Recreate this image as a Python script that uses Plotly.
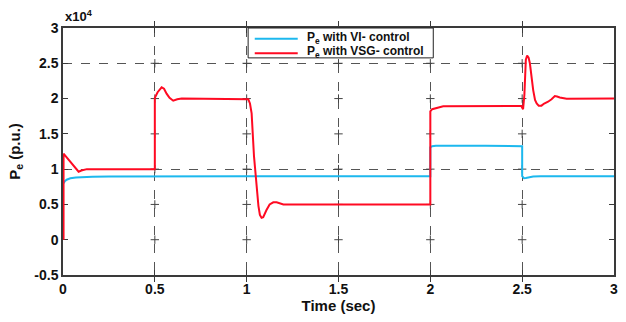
import plotly.graph_objects as go

# ---- data (in p.u.) ----
vi_t = [0.003, 0.01, 0.02, 0.04, 0.07, 0.10, 0.16, 0.25, 0.5, 1.0, 1.5, 2.0, 2.0, 2.01, 2.03, 2.06, 2.1, 2.3, 2.5, 2.5, 2.51, 2.52, 2.54, 2.56, 2.6, 3.0]
vi_p = [8000, 8300, 8500, 8700, 8820, 8880, 8930, 8960, 9000, 9000, 9000, 9000, 13100, 13250, 13330, 13350, 13320, 13300, 13250, 9000, 8720, 8750, 8850, 8950, 9000, 9000]

vsg_t = [0.003, 0.003, 0.085, 0.10, 0.13, 0.5, 0.5, 0.515, 0.537, 0.55, 0.564, 0.58, 0.600, 0.622, 0.646, 1.0, 1.009, 1.018, 1.027, 1.04, 1.054, 1.064, 1.072, 1.081, 1.09, 1.1, 1.108, 1.125, 1.145, 1.163, 1.2, 2.0, 2.0, 2.01, 2.025, 2.05, 2.07, 2.495, 2.505, 2.512, 2.52, 2.527, 2.535, 2.542, 2.55, 2.56, 2.57, 2.579, 2.59, 2.605, 2.62, 2.641, 2.66, 2.678, 2.69, 2.705, 2.742, 3.0]
vsg_p = [0, 12200, 9630, 9800, 10000, 10000, 20100, 20900, 21600, 21400, 20700, 20100, 19700, 19900, 20000, 20000, 19900, 19300, 17900, 11800, 7000, 4800, 3500, 3100, 3200, 3800, 4200, 5000, 5300, 5300, 5000, 5000, 18200, 18500, 18600, 18800, 18900, 18950, 18500, 20500, 25500, 26100, 25800, 25000, 23200, 21200, 19800, 19300, 19000, 19000, 19300, 19550, 19900, 20350, 20300, 20150, 19970, 20000]

series_names = ["P<sub>e</sub> with VI- control", "P<sub>e</sub> with VSG- control"]

x_ticks = [0, 0.5, 1, 1.5, 2, 2.5, 3]
x_tick_text = ["0", "0.5", "1", "1.5", "2", "2.5", "3"]
y_ticks = [-5000, 0, 5000, 10000, 15000, 20000, 25000, 30000]
y_tick_text = ["-0.5", "0", "0.5", "1", "1.5", "2", "2.5", "3"]
h_grid = [10000, 25000]

BLUE = "#1CB8EE"
RED = "#FF0A22"
COLORS = [BLUE, RED]
FONT = "Liberation Sans"
AX = "#3a3a3a"

fig = go.Figure()

# "+" grid marks at interior intersections
gx, gy = [], []
for xv in x_ticks[1:-1]:
    for yv in y_ticks[1:-1]:
        gx.append(xv)
        gy.append(yv)
fig.add_trace(go.Scatter(x=gx, y=gy, mode="markers", showlegend=False, hoverinfo="skip",
                         marker=dict(symbol="cross-thin", size=6, line=dict(color="#444", width=1))))

fig.add_trace(go.Scatter(x=vi_t, y=vi_p, mode="lines", name=series_names[0], showlegend=False,
                         line=dict(color=BLUE, width=2)))
fig.add_trace(go.Scatter(x=vsg_t, y=vsg_p, mode="lines", name=series_names[1], showlegend=False,
                         line=dict(color=RED, width=2)))
# invisible trace on yaxis2 so its grid is drawn
fig.add_trace(go.Scatter(x=[None], y=[None], yaxis="y2", showlegend=False, hoverinfo="skip"))

# ---- compact legend box (paper coordinates) ----
L_X0, L_X1, L_Y0, L_Y1 = 0.336, 0.672, 0.879, 1.0
row_y = [0.956, 0.898]
shapes = [dict(type="rect", xref="paper", yref="paper", x0=L_X0, x1=L_X1, y0=L_Y0, y1=L_Y1,
               line=dict(color="#222", width=1), fillcolor="white", layer="above")]
annotations = []
for name, col, ry in zip(series_names, COLORS, row_y):
    shapes.append(dict(type="line", xref="paper", yref="paper", x0=L_X0 + 0.012, x1=L_X0 + 0.090,
                       y0=ry, y1=ry, line=dict(color=col, width=2), layer="above"))
    annotations.append(dict(text=name, xref="paper", yref="paper", x=L_X0 + 0.104, y=ry + 0.004,
                            xanchor="left", yanchor="middle", showarrow=False,
                            font=dict(family=FONT, size=12, color="#111", weight="bold")))
annotations.append(dict(text="x10<sup>4</sup>", xref="paper", yref="paper", x=0, y=1, xanchor="left",
                        yanchor="bottom", showarrow=False, yshift=2,
                        font=dict(family=FONT, size=13, color="#111", weight="bold")))

fig.update_layout(
    width=626, height=322,
    margin=dict(l=63, r=12, t=28, b=47),
    paper_bgcolor="white", plot_bgcolor="white",
    font=dict(family=FONT, size=13, color="#111"),
    showlegend=False,
    xaxis=dict(range=[0, 3], tickvals=x_ticks, ticktext=x_tick_text,
               showline=True, linecolor=AX, linewidth=1.5, mirror="allticks",
               ticks="inside", ticklen=5, tickcolor=AX,
               showgrid=True, gridcolor="#555", griddash="dash", gridwidth=1,
               zeroline=False, layer="below traces", automargin=False,
               tickfont=dict(family=FONT, size=14, color="#111", weight="bold"),
               title=dict(text="Time (sec)", font=dict(family=FONT, size=15, color="#111", weight="bold"), standoff=5)),
    yaxis=dict(range=[-5000, 30000], tickvals=y_ticks, ticktext=y_tick_text,
               showline=True, linecolor=AX, linewidth=1.5, mirror="allticks",
               ticks="inside", ticklen=5, tickcolor=AX,
               showgrid=False, zeroline=False, layer="below traces", automargin=False,
               tickfont=dict(family=FONT, size=14, color="#111", weight="bold"),
               title=dict(text="P<sub>e</sub> (p.u.)", font=dict(family=FONT, size=15, color="#111", weight="bold"), standoff=10)),
    yaxis2=dict(range=[-5000, 30000], overlaying="y", tickvals=h_grid, showticklabels=False,
                showgrid=True, gridcolor="#555", griddash="dash", gridwidth=1, zeroline=False,
                showline=False, ticks="", layer="below traces"),
    shapes=shapes,
    annotations=annotations,
)

fig.write_html("out.html")
